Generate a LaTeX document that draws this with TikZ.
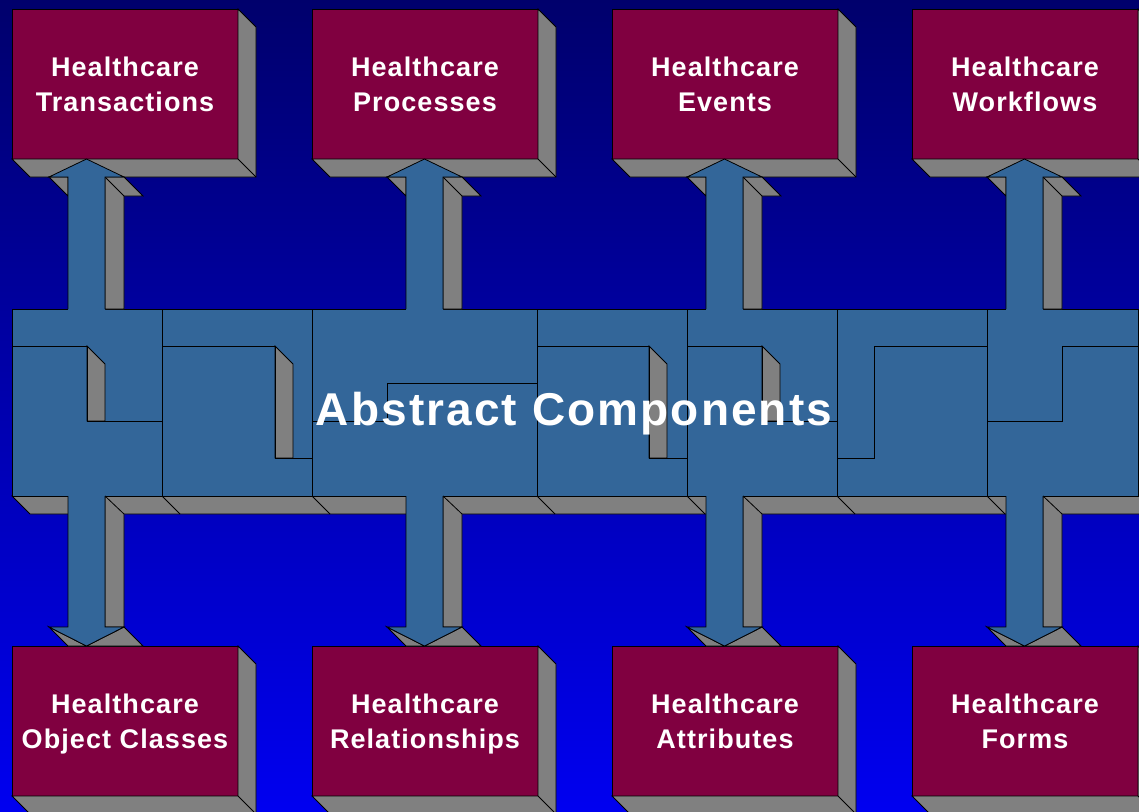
\documentclass[tikz,border=0pt]{standalone}
\usepackage{fontspec}
\setmainfont{Liberation Sans}
\newfontfamily\lblfont{Liberation Sans}[LetterSpace=4.0]
\newfontfamily\ttlfont{Liberation Sans}[LetterSpace=4.6]
\definecolor{bgtop}{RGB}{0,0,108}
\definecolor{bgbot}{RGB}{0,0,240}
\definecolor{boxc}{RGB}{128,0,64}
\definecolor{bandc}{RGB}{51,102,153}
\definecolor{shadec}{RGB}{128,128,128}
\tikzset{
  edge/.style={draw=black, line width=0.8pt, line join=miter},
  gface/.style={fill=shadec, draw=black, line width=0.8pt, line join=miter},
  bface/.style={fill=bandc, draw=black, line width=0.8pt},
  hbox/.style={rectangle, fill=boxc, draw=black, line width=0.8pt,
    minimum width=226pt, minimum height=150pt, inner sep=0pt, outer sep=0pt,
    text depth=0pt,
    text=white, align=center, font={\lblfont\bfseries\fontsize{27}{34.5}\selectfont}},
  title/.style={text=white, inner sep=0pt, font={\ttlfont\bfseries\fontsize{46}{50}\selectfont}},
}
\begin{document}
\begin{tikzpicture}[x=1pt,y=-1pt]
\useasboundingbox (0,0) rectangle (1139,811);
\clip (0,0) rectangle (1139,811);
\shade[top color=bgtop,bottom color=bgbot] (0,0) rectangle (1139,811);

% boxes
\node[hbox] (t1) at (125,84) {Healthcare\\Transactions};
\node[hbox] (t2) at (425,84) {Healthcare\\Processes};
\node[hbox] (t3) at (725,84) {Healthcare\\Events};
\node[hbox] (t4) at (1025,84) {Healthcare\\Workflows};
\node[hbox] (b1) at (125,721) {Healthcare\\Object Classes};
\node[hbox] (b2) at (425,721) {Healthcare\\Relationships};
\node[hbox] (b3) at (725,721) {Healthcare\\Attributes};
\node[hbox] (b4) at (1025,721) {Healthcare\\Forms};
\foreach \n in {t1,t2,t3,t4,b1,b2,b3,b4}{
  \filldraw[gface] (\n.north east) -- ++(18,18) -- ++(0,150) -- ++(-226,0)
     -- (\n.south west) -- (\n.south east) -- cycle;
  \draw[edge] (\n.south east) -- ++(18,18);
}

% band shadow
\filldraw[gface] (12,496) -- (30,514) -- (1160,514) -- (1160,496) -- cycle;
\foreach \x in {162,312,537,687,837,987} \draw[edge] (\x,496) -- ++(18,18);

% band
\filldraw[bface] (12,309) rectangle (1138,496);
\foreach \x in {162,312,537,687,837,987} \draw[edge] (\x,309) -- (\x,496);
% piece 1
\filldraw[gface] (87,346) -- (105,364) -- (105,421) -- (87,421) -- cycle;
\draw[edge] (12,346) -- (87,346) -- (87,421) -- (162,421);
% piece 2
\filldraw[gface] (275,346) -- (293,364) -- (293,458) -- (275,458) -- cycle;
\draw[edge] (162,346) -- (275,346) -- (275,458) -- (312,458);
% piece 3
\draw[edge] (312,421) -- (387,421) -- (387,383) -- (537,383);
% piece 4
\filldraw[gface] (649,346) -- (667,364) -- (667,458) -- (649,458) -- cycle;
\draw[edge] (537,346) -- (649,346) -- (649,458) -- (687,458);
% piece 5
\filldraw[gface] (762,346) -- (780,364) -- (780,421) -- (762,421) -- cycle;
\draw[edge] (687,346) -- (762,346) -- (762,421) -- (837,421);
% piece 6
\draw[edge] (837,458) -- (874,458) -- (874,346) -- (987,346);
% piece 7
\draw[edge] (987,421) -- (1062,421) -- (1062,346) -- (1138,346);

% arrows up
\foreach \c in {86.5,424.5,724.5,1024.5}{
  \filldraw[gface] (\c-37.5,177) -- (\c-18.5,177) -- (\c-18.5,196) -- cycle;
  \filldraw[gface] (\c+18.5,177) -- (\c+37.5,177) -- (\c+56.5,196) -- (\c+37.5,196)
     -- (\c+37.5,309) -- (\c+18.5,309) -- cycle;
  \draw[edge] (\c+18.5,177) -- (\c+37.5,196);
  \fill[bandc] (\c,159) -- (\c+37.5,177) -- (\c+18.5,177) -- (\c+18.5,310.5)
     -- (\c-18.5,310.5) -- (\c-18.5,177) -- (\c-37.5,177) -- cycle;
  \draw[edge] (\c+18.5,309) -- (\c+18.5,177) -- (\c+37.5,177) -- (\c,159)
     -- (\c-37.5,177) -- (\c-18.5,177) -- (\c-18.5,309);
}
% arrows down
\foreach \c in {86.5,424.5,724.5,1024.5}{
  \filldraw[gface] (\c+18.5,496) -- (\c+37.5,514) -- (\c+37.5,627) -- (\c+18.5,627) -- cycle;
  \filldraw[gface] (\c-37.5,627) -- (\c-18.5,646) -- (\c,646) -- cycle;
  \filldraw[gface] (\c+37.5,627) -- (\c+56.5,646) -- (\c,646) -- cycle;
  \fill[bandc] (\c-18.5,494.5) -- (\c-18.5,627) -- (\c-37.5,627) -- (\c,646)
     -- (\c+37.5,627) -- (\c+18.5,627) -- (\c+18.5,494.5) -- cycle;
  \draw[edge] (\c-18.5,496) -- (\c-18.5,627) -- (\c-37.5,627) -- (\c,646)
     -- (\c+37.5,627) -- (\c+18.5,627) -- (\c+18.5,496);
}

\node[title, anchor=base] (abs) at (574,425) {Abstract Components};
\end{tikzpicture}
\end{document}
